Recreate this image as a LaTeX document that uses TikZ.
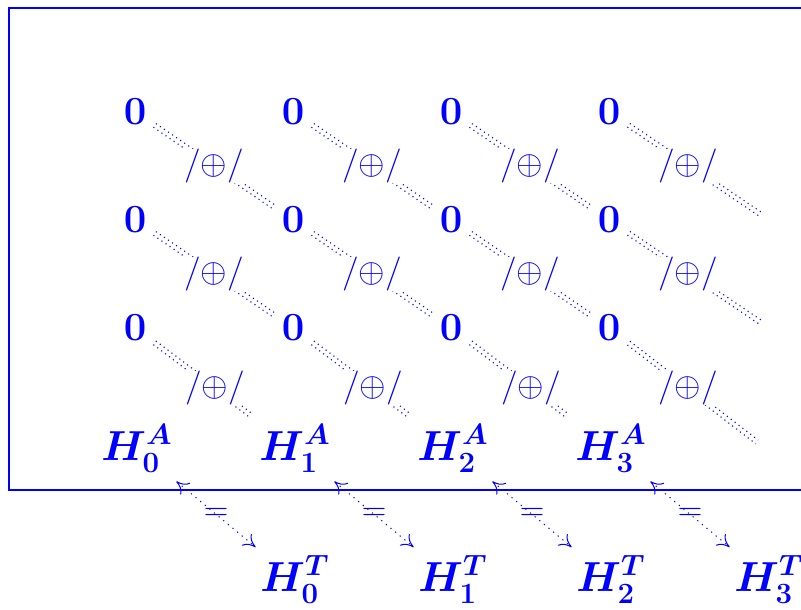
\documentclass[tikz,border=0pt]{standalone}
\usepackage{fix-cm}
\usepackage{amsmath}
\usetikzlibrary{arrows.meta,calc}
\newcommand\dotpair[2]{%
  \draw[dl, transform canvas={shift={(0.62pt,0.92pt)}}] (#1) -- (#2);
  \draw[dl, transform canvas={shift={(-0.62pt,-0.92pt)}}] (#1) -- (#2);}
\begin{document}
\begin{tikzpicture}[x=0.5pt,y=-0.5pt,
  every node/.style={text=blue},
  obj/.style={inner sep=4pt, font=\fontsize{20}{24}\selectfont\boldmath},
  hobj/.style={inner sep=4pt, font=\fontsize{21}{25}\selectfont\boldmath},
  lab/.style={fill=white, inner sep=0pt, font=\fontsize{17}{20}\selectfont},
  eqlab/.style={inner sep=0pt, font=\fontsize{17}{20}\selectfont},
  dl/.style={draw=blue, line width=0.55pt, dash pattern=on 0.55pt off 1.9pt},
  eqar/.style={draw=blue, line width=0.5pt, dash pattern=on 0.6pt off 2.4pt,
    {Computer Modern Rightarrow[length=6pt,width=7.5pt]}-{Computer Modern Rightarrow[length=6pt,width=7.5pt]}},
  frame/.style={draw=blue, line width=0.65pt}
]
\useasboundingbox (0,0) rectangle (801,609);
\draw[frame] (801,8) -- (9,8) -- (9,490) -- (801,490);
% zero nodes
\foreach \r/\y in {0/112,1/220,2/328}{
  \foreach \c/\x in {0/135,1/293,2/451,3/609}{
    \node[obj] (z\r\c) at (\x,\y) {$0$};
  }
}
% H^A nodes
\node[hobj, anchor=base] (a0) at (137,460) {$H^{A}_{0}$};
\node[hobj, anchor=base] (a1) at (295,460) {$H^{A}_{1}$};
\node[hobj, anchor=base] (a2) at (453,460) {$H^{A}_{2}$};
\node[hobj, anchor=base] (a3) at (611,460) {$H^{A}_{3}$};
% H^T nodes
\node[hobj, anchor=base] (t0) at (295,591) {$H^{T}_{0}$};
\node[hobj, anchor=base] (t1) at (453,591) {$H^{T}_{1}$};
\node[hobj, anchor=base] (t2) at (611,591) {$H^{T}_{2}$};
\node[hobj, anchor=base] (t3) at (769,591) {$H^{T}_{3}$};
% empty positions of the last column and free line ends
\coordinate (c1) at (767,220);
\coordinate (c2) at (767,328);
\coordinate (c3) at (767,447);
\coordinate (e1) at (760,214);
\coordinate (e2) at (760,322);
\coordinate (e3) at (757,442);
% double dotted diagonals
\dotpair{z00}{z11} \dotpair{z01}{z12} \dotpair{z02}{z13} \dotpair{z03}{e1}
\dotpair{z10}{z21} \dotpair{z11}{z22} \dotpair{z12}{z23} \dotpair{z13}{e2}
\dotpair{z20}{a1}  \dotpair{z21}{a2}  \dotpair{z22}{a3}  \dotpair{z23}{e3}
% labels on the diagonals
\node[lab] at ($(z00)!.5!(z11)$) {$/{\oplus}/$};
\node[lab] at ($(z01)!.5!(z12)$) {$/{\oplus}/$};
\node[lab] at ($(z02)!.5!(z13)$) {$/{\oplus}/$};
\node[lab] at ($(z03)!.5!(c1)$)  {$/{\oplus}/$};
\node[lab] at ($(z10)!.5!(z21)$) {$/{\oplus}/$};
\node[lab] at ($(z11)!.5!(z22)$) {$/{\oplus}/$};
\node[lab] at ($(z12)!.5!(z23)$) {$/{\oplus}/$};
\node[lab] at ($(z13)!.5!(c2)$)  {$/{\oplus}/$};
\node[lab] at ($(z20)!.5!(a1)$)  {$/{\oplus}/$};
\node[lab] at ($(z21)!.5!(a2)$)  {$/{\oplus}/$};
\node[lab] at ($(z22)!.5!(a3)$)  {$/{\oplus}/$};
\node[lab] at ($(z23)!.5!(c3)$)  {$/{\oplus}/$};
% equality arrows
\draw[eqar] (a0) -- node[eqlab]{$=$} (t0);
\draw[eqar] (a1) -- node[eqlab]{$=$} (t1);
\draw[eqar] (a2) -- node[eqlab]{$=$} (t2);
\draw[eqar] (a3) -- node[eqlab]{$=$} (t3);
\end{tikzpicture}
\end{document}
